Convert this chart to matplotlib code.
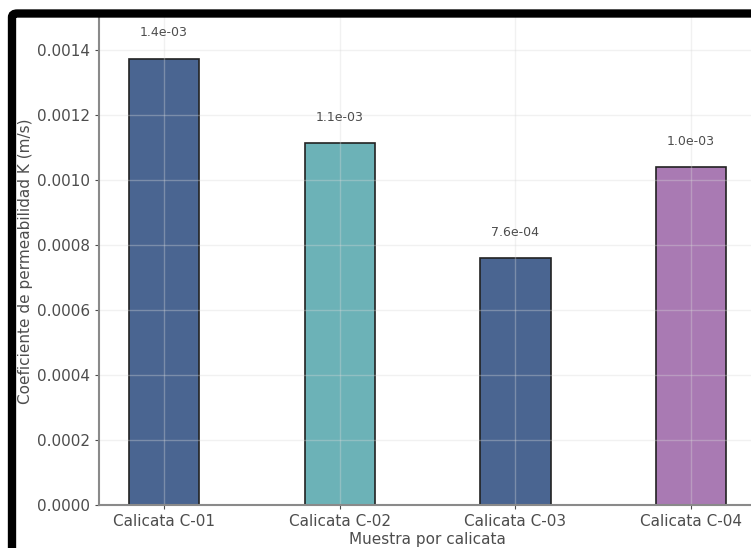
import matplotlib.pyplot as plt
from matplotlib.patches import FancyBboxPatch

calicatas = ["Calicata C-01", "Calicata C-02", "Calicata C-03", "Calicata C-04"]
k_values = [0.001372, 0.001112, 0.000759, 0.001038]
bar_colors = ["#4a6591", "#6cb2b7", "#4a6591", "#a97ab3"]

txt = "#4d4d4d"
fig = plt.figure(figsize=(7.51, 5.48), dpi=100)
ax = fig.add_axes([0.1318, 0.0785, 0.875, 0.8905])

bars = ax.bar(calicatas, k_values, width=0.4, color=bar_colors,
              edgecolor="#222222", linewidth=1.2)
for b, v in zip(bars, k_values):
    ax.text(b.get_x() + b.get_width() / 2, v + 0.00006, f"{v:.1e}",
            ha="center", va="bottom", fontsize=9, color=txt)

ax.set_ylim(0, 0.0015)
ax.set_yticks([0, 0.0002, 0.0004, 0.0006, 0.0008, 0.0010, 0.0012, 0.0014])
ax.grid(True, color="#d9d9d9", alpha=0.35, linewidth=1)
ax.set_xlabel("Muestra por calicata", fontsize=11, color=txt, labelpad=2)
ax.set_ylabel("Coeficiente de permeabilidad K (m/s)", fontsize=11, color=txt,
              labelpad=3)
ax.tick_params(labelsize=11, colors=txt, length=3, width=0.8)
for s in ["top", "right"]:
    ax.spines[s].set_visible(False)
for s in ["left", "bottom"]:
    ax.spines[s].set_color("#8a8a8a")
    ax.spines[s].set_linewidth(1.5)

# black frame of the screenshot (top/left edges visible)
frame = FancyBboxPatch((12 / 751, -0.1), 1.2, 1.1 - 13.5 / 548,
                       boxstyle="round,pad=0,rounding_size=0.007",
                       transform=fig.transFigure, fill=False,
                       edgecolor="black", linewidth=6, clip_on=False)
fig.patches.append(frame)

fig.savefig("out.png", dpi=100)
